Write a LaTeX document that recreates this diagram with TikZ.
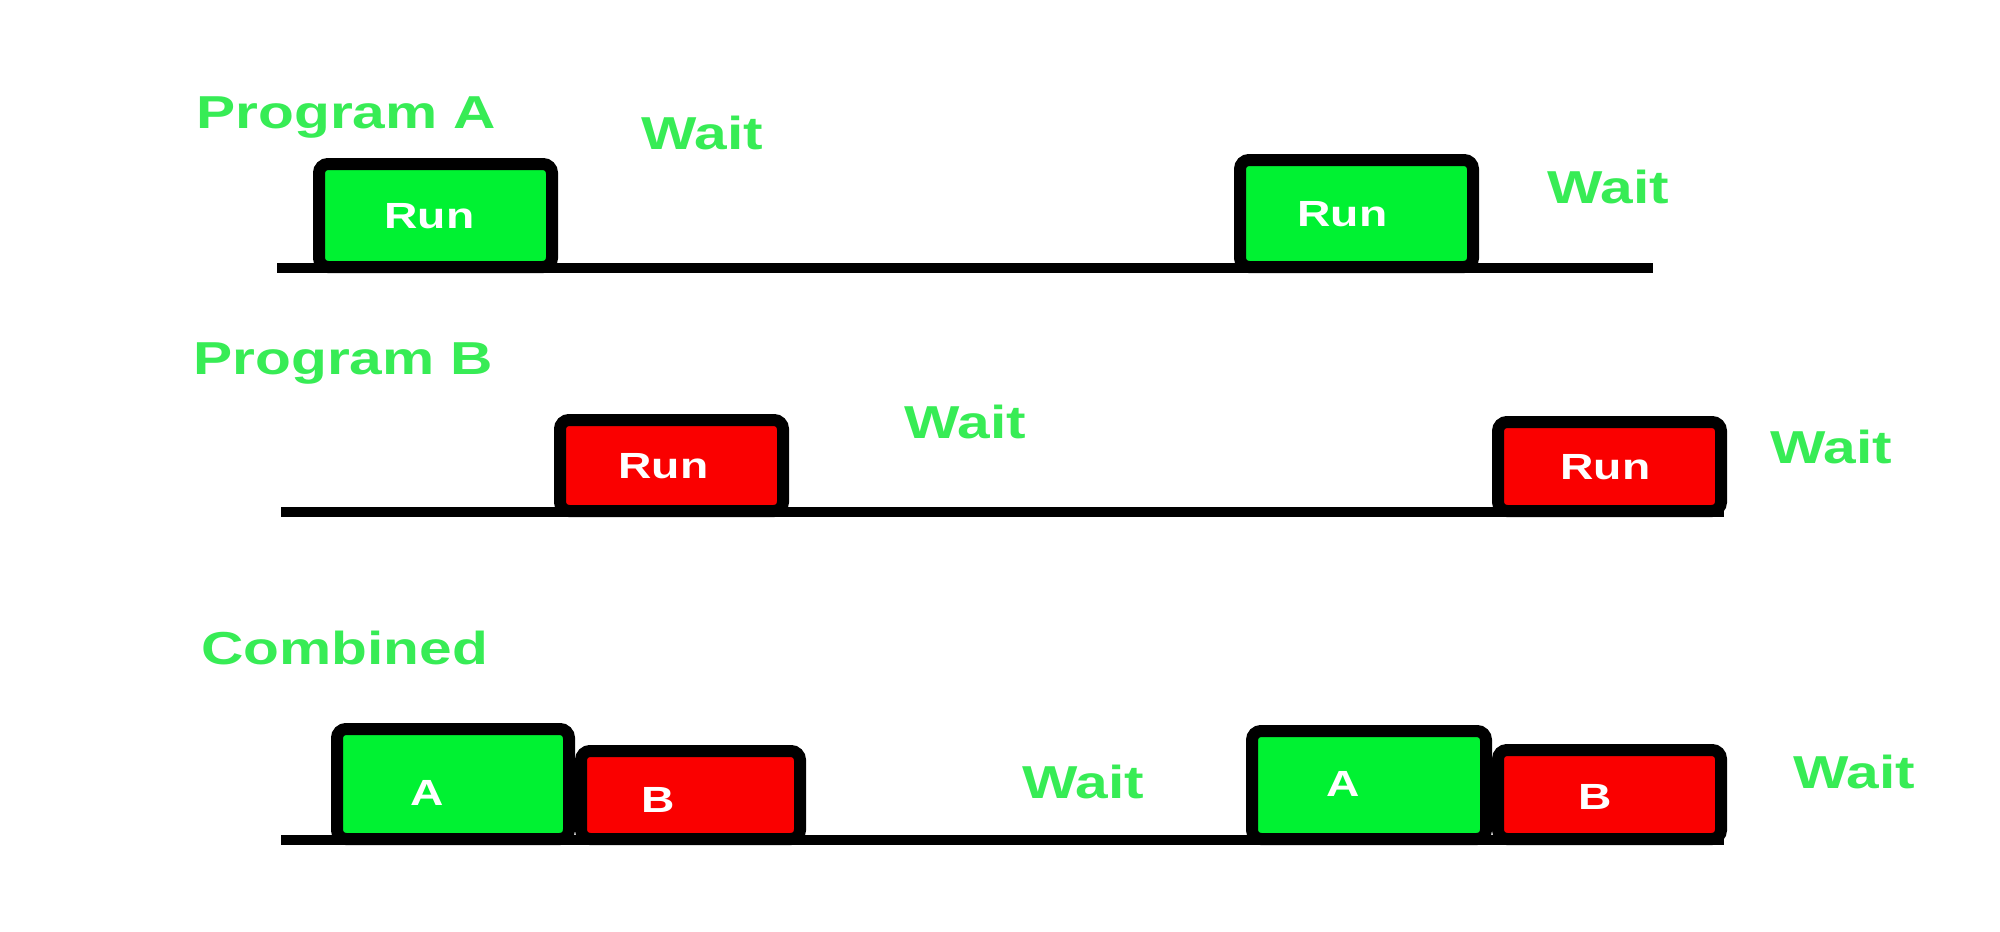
\documentclass[tikz,border=0pt]{standalone}
\usepackage{fontspec}
\newfontfamily\lblfont[FakeStretch=1.27]{Liberation Sans Bold}
\usetikzlibrary{fit}
\definecolor{boxgreen}{RGB}{0,242,50}
\definecolor{boxred}{RGB}{250,0,0}
\definecolor{lblgreen}{RGB}{55,236,85}
\begin{document}
\begin{tikzpicture}[x=0.5pt,y=-0.5pt,
  axis/.style={line width=5pt},
  box/.style={draw=black, line width=6pt, rounded corners=4.5pt, inner sep=0pt},
  abox/.style={box, fill=boxgreen},
  bbox/.style={box, fill=boxred},
  boxtext/.style={text=white, inner sep=0pt, anchor=center, text height=13pt, text depth=0pt,
    font=\lblfont\fontsize{18.2}{20}\selectfont},
  lbl/.style={anchor=base west, inner sep=0pt, text=lblgreen,
    font=\lblfont\fontsize{23.1}{26}\selectfont}]
\useasboundingbox (0,0) rectangle (2000,931);
% time axes
\coordinate (la0) at (277,268);
\coordinate (la1) at (1653,268);
\coordinate (lb0) at (281,512);
\coordinate (lb1) at (1724,512);
\coordinate (lc0) at (281,840);
\coordinate (lc1) at (1724,840);
\draw[axis] (la0) -- (la1);
\draw[axis] (lb0) -- (lb1);
\draw[axis] (lc0) -- (lc1);
% Program A
\node[lbl] (tA) at (196,128) {Program A};
\node[abox, fit={(319,164) (552,267)}, label={[boxtext,xshift=-3pt]center:Run}] (ra1) {};
\node[abox, fit={(1240,160) (1473,267)}, label={[boxtext,xshift=-7pt]center:Run}] (ra2) {};
\node[lbl] (wa1) at (641,149) {Wait};
\node[lbl] (wa2) at (1547,203) {Wait};
% Program B
\node[lbl] (tB) at (193,374) {Program B};
\node[bbox, fit={(560,420) (783,511)}, label={[boxtext,xshift=-4pt]center:Run}] (rb1) {};
\node[bbox, fit={(1498,422) (1721,511)}, label={[boxtext,xshift=-2pt]center:Run}] (rb2) {};
\node[lbl] (wb1) at (904,438) {Wait};
\node[lbl] (wb2) at (1770,463) {Wait};
% Combined
\node[lbl] (tC) at (201,664) {Combined};
\node[abox, fit={(337,729) (569,839)}, label={[boxtext,xshift=-13pt,yshift=-4pt]center:A}] (ca1) {};
\node[bbox, fit={(581,751) (800,839)}, label={[boxtext,xshift=-16pt,yshift=-2pt]center:B}] (cb1) {};
\node[abox, fit={(1252,731) (1486,839)}, label={[boxtext,xshift=-13pt,yshift=1pt]center:A}] (ca2) {};
\node[bbox, fit={(1498,750) (1721,839)}, label={[boxtext,xshift=-7pt,yshift=-1pt]center:B}] (cb2) {};
\node[lbl] (wc1) at (1022,798) {Wait};
\node[lbl] (wc2) at (1793,788) {Wait};
\end{tikzpicture}
\end{document}
